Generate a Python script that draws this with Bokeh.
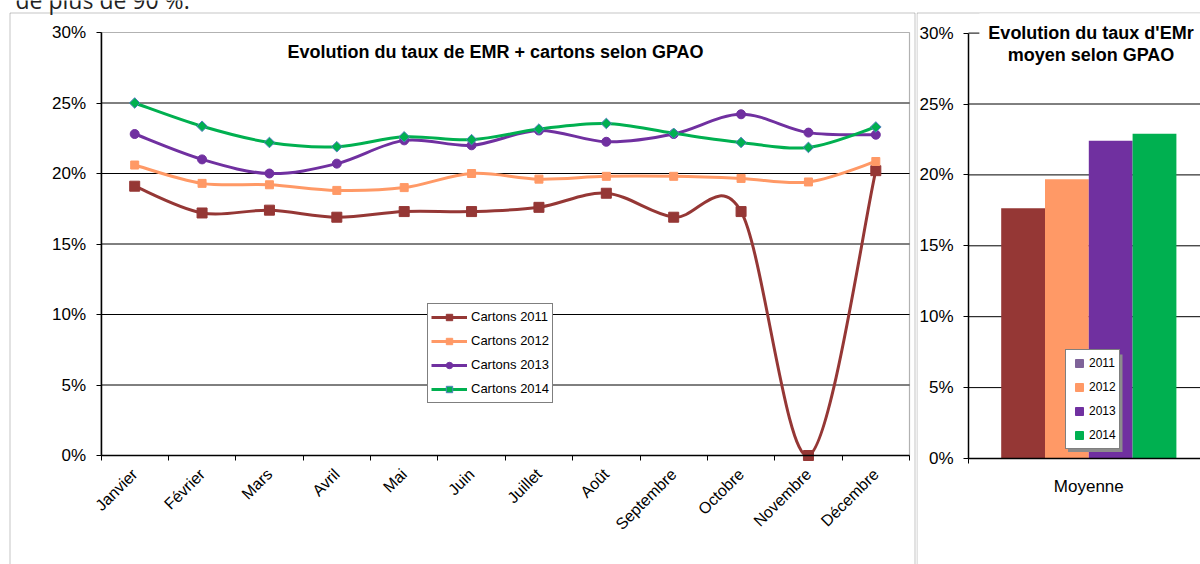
import math
from bokeh.plotting import figure
from bokeh.models import (Range1d, FixedTicker, PrintfTickFormatter, Legend, LegendItem,
                          Label, BoxAnnotation)
from bokeh.layouts import row
from bokeh.embed import file_html
from bokeh.resources import INLINE

FONT = "Liberation Sans"

# ---------------- data ----------------
months = ["Janvier", "Février", "Mars", "Avril", "Mai", "Juin", "Juillet", "Août",
          "Septembre", "Octobre", "Novembre", "Décembre"]
cartons_2011 = [19.1, 17.2, 17.4, 16.9, 17.3, 17.3, 17.6, 18.6, 16.9, 17.3, 0.0, 20.2]
cartons_2012 = [20.6, 19.3, 19.2, 18.8, 19.0, 20.0, 19.6, 19.8, 19.8, 19.65, 19.4, 20.85]
cartons_2013 = [22.8, 21.0, 20.0, 20.7, 22.35, 22.0, 23.05, 22.25, 22.8, 24.2, 22.9, 22.75]
cartons_2014 = [25.0, 23.35, 22.2, 21.9, 22.6, 22.4, 23.15, 23.55, 22.85, 22.2, 21.85, 23.3]
series_labels = ["Cartons 2011", "Cartons 2012", "Cartons 2013", "Cartons 2014"]

years = ["2011", "2012", "2013", "2014"]
moyenne = [17.65, 19.7, 22.4, 22.9]
category = ["Moyenne"]

pct_ticks = [0, 5, 10, 15, 20, 25, 30]
grid_vals = [5, 10, 15, 20, 25]

left_title = "Evolution du taux de EMR + cartons selon GPAO"
right_title = ["Evolution du taux d'EMr", "moyen selon GPAO"]
page_text = "de plus de 90 %."

# ---------------- styles / geometry ----------------
colors = ["#953735", "#FF9966", "#7030A0", "#00B050"]
legend_bar_colors = ["#7F6399", "#FF9966", "#7030A0", "#00B050"]
H = 564
W1, W2 = 916, 284


def style_axis_y(ax, xloc):
    ax.fixed_location = xloc
    ax.bounds = (0, 30)
    ax.ticker = FixedTicker(ticks=pct_ticks)
    ax.formatter = PrintfTickFormatter(format="%d%%")
    ax.major_tick_out = 5
    ax.major_tick_in = 0
    ax.minor_tick_out = 0
    ax.minor_tick_in = 0
    ax.major_tick_line_color = "black"
    ax.axis_line_color = "black"
    ax.axis_line_width = 1.5
    ax.major_label_text_font = FONT
    ax.major_label_text_font_size = "17px"
    ax.major_label_text_color = "black"
    ax.major_label_standoff = 10


def base_fig(width, xr, yr):
    p = figure(width=width, height=H, x_range=xr, y_range=yr,
               output_backend="svg", toolbar_location=None,
               min_border=0, min_border_left=0, min_border_right=0,
               min_border_top=0, min_border_bottom=0)
    p.outline_line_color = None
    p.background_fill_color = "white"
    p.border_fill_color = "white"
    p.xgrid.visible = False
    p.ygrid.visible = False
    return p


# ---------------- left chart ----------------
# plot area in canvas pixels: x 100.5..909 (12 months), y 455 (0%) .. 32 (30%)
px_x0, px_x1, px_y0, px_y1 = 100.5, 909.0, 455.0, 32.0
sx = (px_x1 - px_x0) / 12.0
sy = (px_y0 - px_y1) / 30.0
xr1 = Range1d(-px_x0 / sx, (W1 - px_x0) / sx)
yr1 = Range1d(-(H - px_y0) / sy, px_y0 / sy)
p1 = base_fig(W1, xr1, yr1)

# outer chart border
p1.add_layout(BoxAnnotation(left=9.5, right=914.5, top=H - 12.5, bottom=-20,
                            left_units="screen", right_units="screen",
                            top_units="screen", bottom_units="screen",
                            fill_color=None, fill_alpha=0, line_color="#404040", line_width=1))
# plot area border
p1.add_layout(BoxAnnotation(left=0, right=12, bottom=0, top=30,
                            fill_color=None, fill_alpha=0, line_color="black", line_width=1.2))
# horizontal grid lines
p1.segment(x0=0, x1=12, y0=grid_vals, y1=grid_vals, line_color="black", line_width=1)

style_axis_y(p1.yaxis[0], 0)

xa = p1.xaxis[0]
centers = [i + 0.5 for i in range(len(months))]
xa.fixed_location = 0
xa.bounds = (0, 12)
xa.ticker = FixedTicker(ticks=centers, minor_ticks=list(range(len(months) + 1)))
xa.major_label_overrides = {c: m for c, m in zip(centers, months)}
xa.major_tick_out = 0
xa.major_tick_in = 0
xa.minor_tick_out = 5
xa.minor_tick_in = 0
xa.minor_tick_line_color = "black"
xa.axis_line_color = "black"
xa.axis_line_width = 1.5
xa.major_label_orientation = math.pi / 4
xa.major_label_text_font = FONT
xa.major_label_text_font_size = "16px"
xa.major_label_text_color = "black"
xa.major_label_standoff = 11


def smooth(xs, ys):
    n = len(xs)
    d = dict(x0=[], y0=[], x1=[], y1=[], cx0=[], cy0=[], cx1=[], cy1=[])
    for i in range(n - 1):
        ip = max(i - 1, 0)
        inn = min(i + 2, n - 1)
        d["x0"].append(xs[i]); d["y0"].append(ys[i])
        d["x1"].append(xs[i + 1]); d["y1"].append(ys[i + 1])
        d["cx0"].append(xs[i] + (xs[i + 1] - xs[ip]) / 6.0)
        d["cy0"].append(ys[i] + (ys[i + 1] - ys[ip]) / 6.0)
        d["cx1"].append(xs[i + 1] - (xs[inn] - xs[i]) / 6.0)
        d["cy1"].append(ys[i + 1] - (ys[inn] - ys[i]) / 6.0)
    return d


all_series = [cartons_2011, cartons_2012, cartons_2013, cartons_2014]
marker_specs = [
    dict(marker="square", size=10, fill_color=colors[0], line_color=colors[0]),
    dict(marker="square", size=8, fill_color=colors[1], line_color=colors[1]),
    dict(marker="circle", size=9, fill_color=colors[2], line_color=colors[2]),
    dict(marker="square", size=7.5, angle=math.pi / 4, fill_color=colors[3], line_color="#4F81BD"),
]

items = []
for vals, col, ms, lab in zip(all_series, colors, marker_specs, series_labels):
    seg = smooth(centers, vals)
    br = p1.bezier(x0=seg["x0"], y0=seg["y0"], x1=seg["x1"], y1=seg["y1"],
                   cx0=seg["cx0"], cy0=seg["cy0"], cx1=seg["cx1"], cy1=seg["cy1"],
                   line_color=col, line_width=3)
    sr = p1.scatter(x=centers, y=vals, **ms)
    items.append(LegendItem(label=lab, renderers=[br, sr]))

leg1 = Legend(items=items, location=(427, H - 402.7), orientation="vertical",
              padding=3, spacing=4, label_height=20, glyph_height=16, glyph_width=36,
              label_standoff=4, margin=0,
              label_text_font=FONT, label_text_font_size="13px", label_text_color="black",
              border_line_color="black", border_line_width=1,
              background_fill_color="white", background_fill_alpha=1)
p1.add_layout(leg1)

p1.add_layout(Label(x=495, y=H - 51, x_units="screen", y_units="screen",
                    text=left_title,
                    text_align="center", text_baseline="middle",
                    text_font=FONT, text_font_size="18px", text_font_style="bold",
                    text_color="black"))

# cut-off line of document text above the charts
p1.add_layout(Label(x=15, y=H + 1, x_units="screen", y_units="screen",
                    text=page_text, text_align="left", text_baseline="alphabetic",
                    text_font="Open Sans", text_font_size="23px", text_color="#222222"))

# ---------------- right chart ----------------
# plot area: axis at canvas x 52 (category band 240.6 px wide), y 458 (0%) .. 32.6 (30%)
band_px = 240.6
ax2_px = 968.0 - W1
y0_2, y30_2 = 458.0, 32.6
sy2 = (y0_2 - y30_2) / 30.0
xr2 = Range1d(-0.5 - ax2_px / band_px, -0.5 + (W2 - ax2_px) / band_px)
yr2 = Range1d(-(H - y0_2) / sy2, y0_2 / sy2)
p2 = base_fig(W2, xr2, yr2)

p2.add_layout(BoxAnnotation(left=0.5, right=400, top=H - 12.5, bottom=-20,
                            left_units="screen", right_units="screen",
                            top_units="screen", bottom_units="screen",
                            fill_color=None, fill_alpha=0, line_color="#404040", line_width=1))
p2.segment(x0=-0.5, x1=xr2.end + 1, y0=grid_vals + [30], y1=grid_vals + [30],
           line_color="black", line_width=1)

style_axis_y(p2.yaxis[0], -0.5)

xb = p2.xaxis[0]
xb.fixed_location = 0
xb.bounds = (-0.5, xr2.end + 1)
xb.ticker = FixedTicker(ticks=[0], minor_ticks=[-0.5])
xb.major_label_overrides = {0: category[0]}
xb.major_tick_out = 0
xb.major_tick_in = 0
xb.minor_tick_out = 5
xb.minor_tick_in = 0
xb.minor_tick_line_color = "black"
xb.axis_line_color = "black"
xb.axis_line_width = 1.5
xb.major_label_text_font = FONT
xb.major_label_text_font_size = "17px"
xb.major_label_text_color = "black"
xb.major_label_standoff = 13

bar_w = 43.8 / band_px
bar_x = [(k - 1.5) * bar_w for k in range(len(years))]
for k, (v, col) in enumerate(zip(moyenne, colors)):
    p2.vbar(x=[bar_x[k]], top=[v], width=bar_w, bottom=0,
            fill_color=col, line_color=None)

items2 = []
for k, (yr, col) in enumerate(zip(years, legend_bar_colors)):
    r = p2.scatter(x=[bar_x[k]], y=[moyenne[k]], size=0, marker="square",
                   fill_color=col, line_color=col)
    items2.append(LegendItem(label=yr, renderers=[r]))

lg2_left, lg2_bottom = 1065 - W1, H - 449
p2.add_layout(BoxAnnotation(left=lg2_left + 2.5, right=lg2_left + 57, top=lg2_bottom + 95,
                            bottom=lg2_bottom - 2.5,
                            left_units="screen", right_units="screen",
                            top_units="screen", bottom_units="screen",
                            fill_color="#8c8c8c", fill_alpha=1, line_color=None))
leg2 = Legend(items=items2, location=(lg2_left, lg2_bottom), orientation="vertical",
              padding=3, spacing=4, label_height=20, glyph_height=20, glyph_width=20,
              label_standoff=0, margin=0,
              label_text_font=FONT, label_text_font_size="12px", label_text_color="black",
              border_line_color="black", border_line_width=1,
              background_fill_color="white", background_fill_alpha=1)
p2.add_layout(leg2)

p2.add_layout(Label(x=1090.5 - W1, y=H - 32, x_units="screen", y_units="screen",
                    text=right_title[0],
                    text_align="center", text_baseline="middle",
                    text_font=FONT, text_font_size="18px", text_font_style="bold",
                    text_color="black", background_fill_color="white",
                    background_fill_alpha=1, padding=9))
p2.add_layout(Label(x=1090.5 - W1, y=H - 54, x_units="screen", y_units="screen",
                    text=right_title[1],
                    text_align="center", text_baseline="middle",
                    text_font=FONT, text_font_size="18px", text_font_style="bold",
                    text_color="black"))

layout = row(p1, p2)
open("out.html", "w").write(file_html(layout, INLINE))
